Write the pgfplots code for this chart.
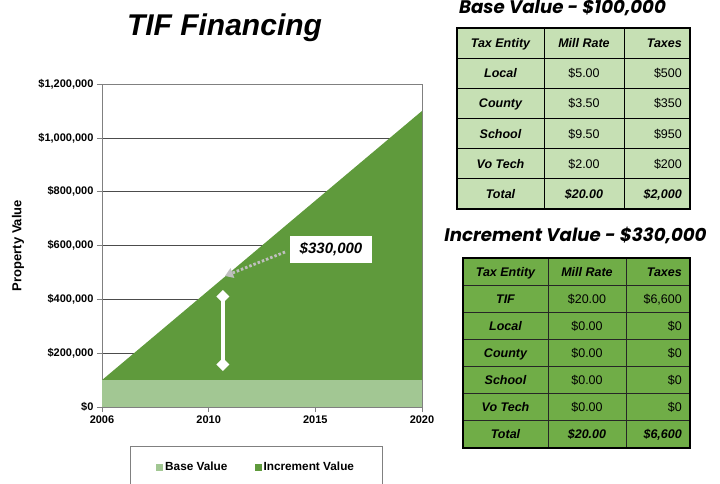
\documentclass[border=0pt]{standalone}
\usepackage{fontspec}
\setmainfont{Liberation Sans}
\newfontfamily\gothic{Poppins}
\usepackage{pgfplots}
\pgfplotsset{compat=1.18}
\usetikzlibrary{arrows.meta}
\definecolor{incgreen}{HTML}{5F9A3C}
\definecolor{basegreen}{HTML}{A2C793}
\definecolor{tabA}{HTML}{C6E0B4}
\definecolor{tabB}{HTML}{70AD47}
\newcommand{\tfont}{\fontsize{12.5}{14}\selectfont}
% row: y-center, col1 x, col2 x, right x, c1, c2, c3, font for c2/c3
\newcommand{\trow}[8]{%
  \node[anchor=base, font=\tfont\bfseries\itshape] at (#2,#1+4.5) {#5};
  \node[anchor=base, font=\tfont#8] at (#3,#1+4.5) {#6};
  \node[anchor=base east, font=\tfont#8, inner sep=0pt] at (#4,#1+4.5) {#7};}
\begin{document}
\begin{tikzpicture}
\path[use as bounding box] (0pt,0pt) rectangle (720pt,-483pt);
\begin{axis}[
  at={(102pt,-407pt)}, anchor=south west,
  scale only axis, width=320pt, height=323pt,
  xmin=0, xmax=3, ymin=0, ymax=1200000,
  xtick={0,1,2,3}, xticklabels={2006,2010,2015,2020},
  ytick={0,200000,400000,600000,800000,1000000,1200000},
  yticklabels={\$0,{\$200,000},{\$400,000},{\$600,000},{\$800,000},{\$1,000,000},{\$1,200,000}},
  scaled y ticks=false,
  ticklabel style={font=\bfseries\fontsize{11}{13}\selectfont, text=black},
  ylabel={Property Value},
  ylabel style={font=\bfseries\fontsize{13}{15}\selectfont, at={(axis description cs:-0.2625,0.5)}, anchor=center},
  axis line style={draw=gray},
  tick style={draw=gray, thin},
  tick align=outside, major tick length=5pt,
  xtick pos=bottom, ytick pos=left,
  ymajorgrids, grid style={draw=black!70, thin},
  stack plots=y,
  legend columns=2,
  legend style={at={(0.0875,-0.1207)}, anchor=north west, draw=gray,
    inner xsep=26pt, inner ysep=14pt,
    font=\bfseries\fontsize{11.8}{13}\selectfont,
    /tikz/every even column/.append style={column sep=25pt}},
  legend image code/.code={\draw[#1, draw=none] (0pt,-3.5pt) rectangle (7pt,3.5pt);},
]
\addplot[fill=basegreen, draw=none] coordinates {(0,100000) (3,100000)} \closedcycle;
\addlegendentry{Base Value}
\addplot[fill=incgreen, draw=none] coordinates {(0,0) (3,1000000)} \closedcycle;
\addlegendentry{Increment Value}
\coordinate (DA1) at (axis cs:1.134,434700);
\coordinate (DA2) at (axis cs:1.134,133700);
\coordinate (PA1) at (axis cs:1.716,575900);
\coordinate (PA2) at (axis cs:1.153,486700);
\coordinate (BX) at (axis cs:2.147,585000);
\end{axis}
\draw[white, line width=3.5pt, {Diamond[length=13pt,width=13pt]}-{Diamond[length=13pt,width=13pt]}]
  (DA1) -- (DA2);
\draw[black!25, line width=2.8pt, dash pattern=on 2.5pt off 2pt, -{Triangle[length=8pt,width=10pt]}]
  (PA1) -- (PA2);
\node[fill=white, minimum width=82pt, minimum height=27pt, font=\bfseries\itshape\fontsize{15}{17}\selectfont]
  at (BX) {\$330,000};
\node[anchor=base, font=\bfseries\itshape\fontsize{30}{36}\selectfont] at (224.5pt,-35pt) {TIF Financing};
\begin{scope}[x=1pt,y=-1pt]
  % titles
  \node[anchor=base, font=\gothic\bfseries\itshape\fontsize{18.2}{20}\selectfont] at (562.5,13) {Base Value - \$100,000};
  \node[anchor=base, font=\gothic\bfseries\itshape\fontsize{18.2}{20}\selectfont] at (575.5,241.7) {Increment Value - \$330,000};
  % base table
  \fill[tabA] (457,28) rectangle (690,209);
  \foreach \k in {1,...,5} \draw[black, line width=0.8pt] (457,28+\k*30.17) -- (690,28+\k*30.17);
  \draw[black, line width=0.8pt] (544,28) -- (544,209) (624,28) -- (624,209);
  \draw[black, line width=1.6pt] (457,28) rectangle (690,209);
  \trow{43.08}{500.5}{584}{682}{Tax Entity}{Mill Rate}{Taxes}{\bfseries\itshape}
  \trow{73.25}{500.5}{584}{682}{Local}{\$5.00}{\$500}{}
  \trow{103.42}{500.5}{584}{682}{County}{\$3.50}{\$350}{}
  \trow{133.59}{500.5}{584}{682}{School}{\$9.50}{\$950}{}
  \trow{163.76}{500.5}{584}{682}{Vo Tech}{\$2.00}{\$200}{}
  \trow{193.93}{500.5}{584}{682}{Total}{\$20.00}{\$2,000}{\bfseries\itshape}
  % increment table
  \fill[tabB] (463,258) rectangle (690,448);
  \foreach \k in {1,...,6} \draw[black!85, line width=0.8pt] (463,258+\k*27.14) -- (690,258+\k*27.14);
  \draw[black!85, line width=0.8pt] (548,258) -- (548,448) (626,258) -- (626,448);
  \draw[black, line width=1.6pt] (463,258) rectangle (690,448);
  \trow{271.57}{505.5}{587}{682}{Tax Entity}{Mill Rate}{Taxes}{\bfseries\itshape}
  \trow{298.71}{505.5}{587}{682}{TIF}{\$20.00}{\$6,600}{}
  \trow{325.85}{505.5}{587}{682}{Local}{\$0.00}{\$0}{}
  \trow{352.99}{505.5}{587}{682}{County}{\$0.00}{\$0}{}
  \trow{380.13}{505.5}{587}{682}{School}{\$0.00}{\$0}{}
  \trow{407.27}{505.5}{587}{682}{Vo Tech}{\$0.00}{\$0}{}
  \trow{434.41}{505.5}{587}{682}{Total}{\$20.00}{\$6,600}{\bfseries\itshape}
\end{scope}
\end{tikzpicture}
\end{document}
